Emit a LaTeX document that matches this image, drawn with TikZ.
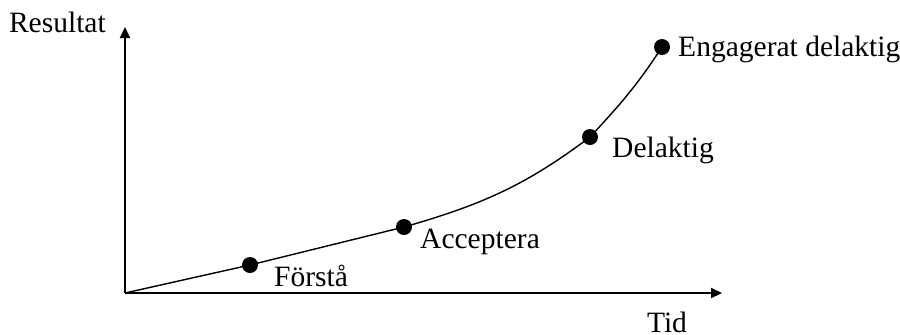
\documentclass[tikz,border=0pt]{standalone}
\usepackage{fontspec}
\setmainfont{Liberation Serif}
\usetikzlibrary{arrows.meta,positioning}

\begin{document}
\begin{tikzpicture}[
  axis/.style={line width=0.6pt, -{Triangle[length=1.1mm, width=1mm]}},
  dot/.style={circle, fill=black, inner sep=0pt, minimum size=1.6mm},
  lbl/.style={font=\fontsize{8.4}{10}\selectfont, inner sep=1pt}
]
\useasboundingbox (0,0) rectangle (9,3.34);

% ─── Axes ───
\coordinate (o)    at (1.25, 0.41);
\coordinate (ytop) at (1.25, 3.07);
\coordinate (xend) at (7.22, 0.41);
\draw[axis] (o) -- (ytop);
\draw[axis] (o) -- (xend);
\node[lbl, anchor=east] (res) at (1.10, 3.12) {Resultat};
\node[lbl] (tid) at (6.67, 0.12) {Tid};

% ─── Stages ───
\node[dot] (forsta) at (2.50, 0.69) {};
\node[dot] (acc)    at (4.04, 1.07) {};
\node[dot] (del)    at (5.90, 1.97) {};
\node[dot] (eng)    at (6.62, 2.87) {};

\node[lbl, anchor=west] (lforsta) at (2.70, 0.58) {Förstå};
\node[lbl, anchor=west] (lacc)    at (4.16, 0.92) {Acceptera};
\node[lbl, anchor=west] (ldel)    at (6.08, 1.84) {Delaktig};
\node[lbl, anchor=west] (leng)    at (6.74, 2.85) {Engagerat delaktig};

% ─── Curve through the stages ───
\draw[line width=0.4pt] (o) -- (forsta.center) -- (acc.center)
     to[out=16, in=217] (del.center) to[out=47, in=237] (eng.center);

\end{tikzpicture}
\end{document}
